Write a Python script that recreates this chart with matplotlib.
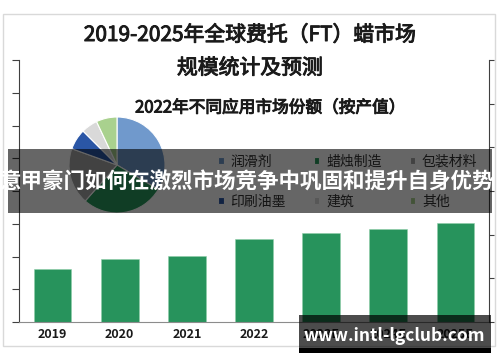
import matplotlib.pyplot as plt
import matplotlib.patheffects as pe
from matplotlib.patches import Rectangle

plt.rcParams['font.family'] = ['Noto Sans CJK SC', 'DejaVu Sans']

# bar chart: market size (left axis units, labels hidden in the source)
years = ['2019', '2020', '2021', '2022', '2023E', '2024E', '2025E']
market_size = [1.62, 1.92, 2.02, 2.53, 2.72, 2.84, 3.02]

# inset pie: 2022 share by application (%)
pie_labels = ['润滑剂', '蜡烛制造', '包装材料', '印刷油墨', '建筑', '其他']
pie_shares = [33.5, 28, 19, 7, 5.5, 7]
pie_colors = ['#7099cc', '#2a9a5e', '#a5a5a5', '#2a56a6', '#d9d9d9', '#a9d18e']

bar_color = '#27935c'
W, H = 500, 362

fig = plt.figure(figsize=(5, 3.62), dpi=100)

# outer chart frame
fig.add_artist(Rectangle((3 / W, 1 - 346 / H), 492 / W, 332 / H, transform=fig.transFigure,
                         facecolor='white', edgecolor='#d9d9d9', lw=1, zorder=-1))

# main bar axes
ax = fig.add_axes([19 / W, 40 / H, 470 / W, 262 / H])
ax.bar(range(len(years)), market_size, width=0.56, color=bar_color, edgecolor='#8fcfa8', lw=0.4)
ax.set_xlim(-0.5, len(years) - 0.5)
ax.set_ylim(0, 8)
ax.set_yticks(range(9))
ax.set_yticklabels([])
ax.set_xticks(range(len(years)))
ax.set_xticklabels(years, fontweight='bold', fontsize=9, color='#1a1a1a')
ax.tick_params(axis='x', length=0, pad=4)
ax.tick_params(axis='y', length=5, width=0.8, color='#404040')
ax.spines['top'].set_visible(False)
ax.spines['right'].set_visible(False)
ax.spines['left'].set_color('#404040')
ax.spines['bottom'].set_color('#8c8c8c')
ax.patch.set_alpha(0)

ax2 = ax.twinx()
ax2.set_ylim(0, 6)
ax2.set_yticks(range(7))
ax2.set_yticklabels([])
ax2.tick_params(axis='y', length=3.5, width=0.8, color='#404040')
for s in ['left', 'top', 'bottom']:
    ax2.spines[s].set_visible(False)
ax2.spines['right'].set_color('#404040')

# inset pie
pax = fig.add_axes([69 / W, 1 - 213 / H, 96 / W, 96 / H])
wedges, _ = pax.pie(pie_shares, colors=pie_colors, startangle=90, counterclock=False,
                    wedgeprops=dict(edgecolor='white', linewidth=0.8))
pax.set_xlim(-1, 1)
pax.set_ylim(-1, 1)

order = [0, 3, 1, 4, 2, 5]
fig.legend([wedges[i] for i in order], [pie_labels[i] for i in order], ncol=3,
           loc='upper left', bbox_to_anchor=(211 / W, 1 - 148 / H), frameon=False,
           fontsize=10, handlelength=0.4, handleheight=0.4, handletextpad=0.5,
           columnspacing=2.0, labelspacing=1.85, borderpad=0, labelcolor='#333333')

# titles (regular weight thickened slightly)
thick = [pe.withStroke(linewidth=0.7, foreground='#1a1a1a')]
fig.text(0.5, 1 - 35 / H, '2019-2025年全球费托（FT）蜡市场', fontsize=15,
         ha='center', va='center', color='#1a1a1a', path_effects=thick)
fig.text(0.5, 1 - 68 / H, '规模统计及预测', fontsize=15,
         ha='center', va='center', color='#1a1a1a', path_effects=thick)
fig.text(270 / W, 1 - 108 / H, '2022年不同应用市场份额（按产值）', fontsize=12,
         ha='center', va='center', color='#1a1a1a', path_effects=thick)

# overlay banner
fig.add_artist(Rectangle((8 / W, 1 - 213 / H), 484 / W, 64 / H, transform=fig.transFigure,
                         facecolor='black', alpha=0.6, lw=0, zorder=6))
fig.text(246 / W, 1 - 182 / H, '意甲豪门如何在激烈市场竞争中巩固和提升自身优势', fontsize=15.5,
         fontweight='bold', color='white', ha='center', va='center', zorder=7)

# watermark box
fig.add_artist(Rectangle((299 / W, 1 - 348 / H), 192 / W, 33 / H, transform=fig.transFigure,
                         facecolor='black', alpha=0.7, lw=0, zorder=6))
fig.add_artist(Rectangle((299 / W, 1 - 353 / H), 192 / W, 5 / H, transform=fig.transFigure,
                         facecolor='black', lw=0, zorder=6))
fig.text(394 / W, 1 - 336 / H, 'www.intl-lgclub.com', fontsize=12.5, fontweight='bold',
         color='white', ha='center', va='center', zorder=7)

fig.savefig('out.png', dpi=100)
